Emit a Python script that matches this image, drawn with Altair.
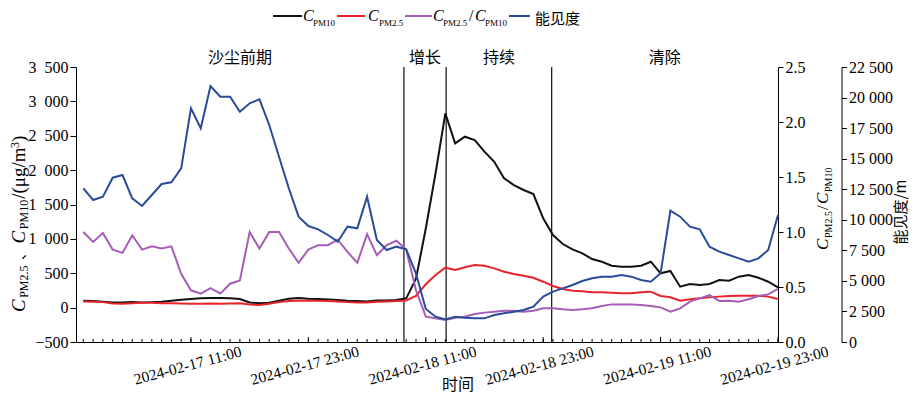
import altair as alt
import pandas as pd

SERIF = "Liberation Serif"
CJK = "Noto Sans CJK SC"
BLACK, RED, PURPLE, BLUE = "#111111", "#e8232a", "#a55db7", "#2a4b9b"

# hourly time stamps
times = pd.date_range("2024-02-17 00:00", periods=72, freq="h")

pm10 = [100, 95, 85, 75, 75, 80, 75, 80, 85, 100,
        115, 125, 135, 140, 140, 135, 125, 75, 65, 70,
        100, 130, 140, 130, 125, 120, 110, 100, 95, 90,
        105, 105, 110, 135, 420, 1150, 1954, 2826, 2390, 2486,
        2438, 2268, 2122, 1881, 1783, 1711, 1652, 1299, 1056, 925,
        848, 790, 707, 668, 610, 595, 595, 610, 668, 499,
        533, 305, 343, 329, 343, 402, 392, 450, 474, 435,
        377, 295]
pm25 = [90, 85, 80, 60, 55, 65, 70, 70, 65, 65,
        60, 55, 55, 60, 55, 60, 65, 45, 40, 55,
        80, 95, 100, 100, 100, 95, 90, 80, 75, 75,
        85, 90, 95, 105, 170, 340, 474, 581, 547, 586,
        620, 610, 571, 523, 489, 465, 435, 377, 314, 271,
        246, 237, 223, 223, 218, 208, 208, 223, 232, 169,
        150, 101, 121, 136, 150, 160, 169, 174, 174, 174,
        160, 126]
ratio = [1.00, 0.91, 0.99, 0.84, 0.81, 0.97, 0.84, 0.87, 0.85, 0.87,
         0.62, 0.47, 0.44, 0.49, 0.44, 0.53, 0.56, 1.00, 0.85, 1.00,
         1.00, 0.85, 0.72, 0.84, 0.88, 0.88, 0.93, 0.82, 0.72, 0.98,
         0.79, 0.88, 0.92, 0.84, 0.47, 0.23, 0.215, 0.20, 0.22, 0.23,
         0.255, 0.267, 0.276, 0.285, 0.282, 0.276, 0.285, 0.306, 0.306, 0.297,
         0.291, 0.297, 0.306, 0.327, 0.342, 0.342, 0.342, 0.336, 0.327, 0.315,
         0.276, 0.306, 0.367, 0.397, 0.427, 0.373, 0.376, 0.367, 0.388, 0.418,
         0.433, 0.482]
vis = [12576, 11618, 11889, 13444, 13664, 11754, 11127, 12027, 12927, 13066,
       14211, 19121, 17485, 20946, 20071, 20071, 18843, 19530, 19857, 17755,
       15162, 12576, 10252, 9491, 9221, 8755, 8207, 9434, 9303, 11889,
       8346, 7527, 7800, 7583, 5600, 2700, 2073, 1854, 2073, 1991,
       1936, 1936, 2209, 2345, 2482, 2618, 2891, 3709, 4118, 4391,
       4664, 4991, 5209, 5345, 5345, 5482, 5345, 5073, 4936, 5618,
       10745, 10254, 9436, 9218, 7800, 7391, 7118, 6845, 6572, 6845,
       7527, 10391]

phase_names = ["沙尘前期", "增长", "持续", "清除"]
phase_bounds = ["2024-02-16 23:15", "2024-02-18 08:46", "2024-02-18 13:05",
                "2024-02-18 23:52", "2024-02-19 23:00"]
x_label_times = ["2024-02-17 11:00", "2024-02-17 23:00", "2024-02-18 11:00",
                 "2024-02-18 23:00", "2024-02-19 11:00", "2024-02-19 23:00"]
pm_ticks = [-500, 0, 500, 1000, 1500, 2000, 2500, 3000, 3500]
ratio_ticks = [0, 0.5, 1.0, 1.5, 2.0, 2.5]
vis_ticks = [0, 2500, 5000, 7500, 10000, 12500, 15000, 17500, 20000, 22500]

W, H = 702, 275

df = pd.DataFrame({
    "time": times.strftime("%Y-%m-%dT%H:%M:%S"),
    "pm10": pm10, "pm25": pm25, "ratio": ratio, "vis": vis,
    "major": [t.hour in (11, 23) for t in times],
})

pb = pd.to_datetime(phase_bounds)
lines_df = pd.DataFrame({"time": pb[1:4].strftime("%Y-%m-%dT%H:%M:%S")})
phase_df = pd.DataFrame({
    "time": [(pb[i] + (pb[i + 1] - pb[i]) / 2).strftime("%Y-%m-%dT%H:%M:%S") for i in range(4)],
    "name": phase_names,
})


def dt(s):
    t = pd.Timestamp(s)
    return alt.DateTime(year=t.year, month=t.month, date=t.day, hours=t.hour, minutes=t.minute)


X = alt.X(
    "time:T",
    scale=alt.Scale(domain=[dt(phase_bounds[0]), dt(phase_bounds[-1])]),
    axis=alt.Axis(
        values=[dt(s) for s in x_label_times], format="%Y-%m-%d %H:%M",
        title=None, ticks=False, tickSize=0, labelAngle=345,
        labelAlign="right", labelBaseline="top", labelOffset=48, labelPadding=2,
        labelOverlap=False, labelFlush=False, labelBound=False,
        labelFontSize=15.5, grid=False,
    ),
)

SEP = "replace(format(datum.value, ','), ',', '\u2002')"
SEP_NARROW = "replace(format(datum.value, ','), ',', ' ')"

pm_axis = alt.Axis(orient="left", values=pm_ticks, labelExpr=SEP,
                   title=None, tickSize=6, labelPadding=2, grid=False,
                   labelOverlap=False, labelBound=False, labelFlush=False)
pm_scale = alt.Scale(domain=[-500, 3500], nice=False, zero=False)

base = alt.Chart(df)

pm_black = base.mark_line(color=BLACK, strokeWidth=2).encode(
    x=X, y=alt.Y("pm10:Q", scale=pm_scale, axis=pm_axis))
pm_red = base.mark_line(color=RED, strokeWidth=2).encode(
    x=X, y=alt.Y("pm25:Q", scale=pm_scale, axis=pm_axis))
pm_layer = alt.layer(pm_black, pm_red)

ratio_line = base.mark_line(color=PURPLE, strokeWidth=2).encode(
    x=X,
    y=alt.Y("ratio:Q", scale=alt.Scale(domain=[0, 2.5], nice=False),
            axis=alt.Axis(orient="right", values=ratio_ticks, format=".1f",
                          title=None, tickSize=5, labelPadding=2, grid=False,
                          labelOverlap=False, labelBound=False, labelFlush=False)),
)
vis_line = base.mark_line(color=BLUE, strokeWidth=2).encode(
    x=X,
    y=alt.Y("vis:Q", scale=alt.Scale(domain=[0, 22500], nice=False),
            axis=alt.Axis(orient="right", offset=63.5, values=vis_ticks,
                          labelExpr=SEP_NARROW, title=None, tickSize=5, labelPadding=2, grid=False,
                          labelOverlap=False, labelBound=False, labelFlush=False)),
)

minor_ticks = base.mark_rule(color="black", strokeWidth=1).encode(
    x=X, y=alt.value(H), y2=alt.value(H - 3))
major_ticks = base.transform_filter("datum.major").mark_rule(color="black", strokeWidth=1).encode(
    x=X, y=alt.value(H), y2=alt.value(H - 5))

vlines = alt.Chart(lines_df).mark_rule(color="#222222", strokeWidth=1.3).encode(x=X)
phase_text = alt.Chart(phase_df).mark_text(font=CJK, fontSize=16, color="black",
                                           baseline="middle", align="center").encode(
    x=X, y=alt.value(-9), text="name:N")

one = pd.DataFrame({"k": [0]})


def txt(s, x, y, size=16, style="normal", font=SERIF, angle=0, align="left", baseline="alphabetic"):
    return alt.Chart(one).mark_text(text=s, font=font, fontSize=size, fontStyle=style, angle=angle,
                                    align=align, baseline=baseline, color="black").encode(
        x=alt.value(x), y=alt.value(y))


def hline(x1, x2, y, color):
    return alt.Chart(one).mark_rule(color=color, strokeWidth=2).encode(
        x=alt.value(x1), x2=alt.value(x2), y=alt.value(y))


LY, CB, SB = -51, -46, -41.5
legend = [
    hline(197, 226, LY, BLACK), txt("C", 227, CB, style="italic"), txt("PM10", 237, SB, size=9),
    hline(261, 289, LY, RED), txt("C", 292, CB, style="italic"), txt("PM2.5", 303, SB, size=9),
    hline(329, 356, LY, PURPLE), txt("C", 357, CB, style="italic"), txt("PM2.5", 367, SB, size=9),
    txt("/", 393, CB), txt("C", 399, CB, style="italic"), txt("PM10", 409, SB, size=9),
    hline(433, 454, LY, BLUE), txt("能见度", 459, LY + 2.5, size=15, font=CJK, baseline="middle"),
]

# left axis title (rotated, reading bottom to top)
LB, LS, LP = -51, -48, -57.5
left_title = [
    txt("C", LB, 245, size=19, style="italic", angle=270),
    txt("PM2.5", LS, 230.8, size=12, angle=270),
    txt("、", -56, 193, size=15, font=CJK, angle=270, baseline="middle"),
    txt("C", LB, 176.4, size=19, style="italic", angle=270),
    txt("PM10", LS, 162.2, size=12, angle=270),
    txt("/(μg/m", LB, 131.8, size=19, angle=270),
    txt("3", LP, 81.1, size=12, angle=270),
    txt(")", LB, 75.1, size=19, angle=270),
]

RB, RS = 752, 755.5
right_title = [
    txt("C", RB, 183, size=17, style="italic", angle=270),
    txt("PM2.5", RS, 171, size=10, angle=270),
    txt("/", RB, 143, size=17, angle=270),
    txt("C", RB, 137, size=17, style="italic", angle=270),
    txt("PM10", RS, 125, size=10, angle=270),
]

far_title = txt("能见度/m", 825, 145, size=15, font=CJK, angle=270, align="center", baseline="middle")
x_title = txt("时间", 382, 318, size=16, font=CJK, align="center", baseline="middle")

chart = alt.layer(
    vlines, minor_ticks, major_ticks, pm_layer, ratio_line, vis_line, phase_text,
    *legend, *left_title, *right_title, far_title, x_title,
).resolve_scale(y="independent").properties(
    width=W, height=H, background="white",
    autosize=alt.AutoSizeParams(type="none"),
    padding={"left": 68, "top": 59, "right": 131, "bottom": 54},
).configure_view(stroke=None).configure_axis(
    labelFont=SERIF, labelFontSize=16, labelColor="black", tickColor="black",
    domainColor="black", domainWidth=1, tickWidth=1, grid=False,
)

chart.save("out.html", embed_options={"renderer": "svg", "actions": False})
